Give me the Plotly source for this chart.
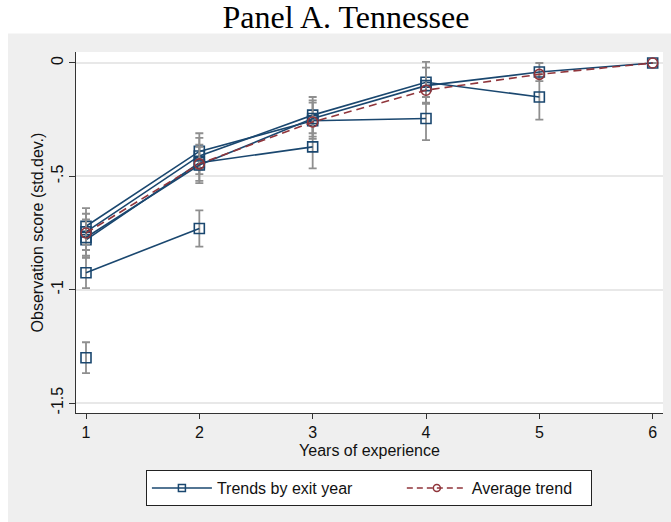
import plotly.graph_objects as go

years = [1, 2, 3, 4, 5, 6]

# Trends by exit year (each cohort observed up to its exit year)
exit1 = [-1.30]
exit2 = [-0.925, -0.73]
exit3 = [-0.78, -0.44, -0.37]
exit4 = [-0.72, -0.39, -0.255, -0.245]
exit5 = [-0.745, -0.41, -0.23, -0.085, -0.15]
exit6 = [-0.77, -0.45, -0.245, -0.10, -0.04, 0.0]

err1 = [0.068]
err2 = [0.068, 0.08]
err3 = [0.08, 0.08, 0.095]
err4 = [0.08, 0.08, 0.08, 0.095]
err5 = [0.08, 0.08, 0.08, 0.09, 0.10]
err6 = [0.08, 0.08, 0.08, 0.08, 0.04, 0.0]

average = [-0.75, -0.445, -0.26, -0.12, -0.05, 0.0]

ytick_vals = [0, -0.5, -1, -1.5]
ytick_text = ["0", "-.5", "-1", "-1.5"]

legend_names = ["Trends by exit year", "Average trend"]

BLUE = "#1a476f"
RED = "#90353b"
GRAY = "#8f8f8f"
BG = "#efefef"
SANS = "Liberation Sans, Arial, sans-serif"
NB = "\u00a0"

fig = go.Figure()

series = [(exit1, err1), (exit2, err2), (exit3, err3), (exit4, err4), (exit5, err5), (exit6, err6)]
for vals, errs in series:
    fig.add_trace(go.Scatter(
        x=years[:len(vals)], y=vals,
        mode="lines+markers",
        line=dict(color=BLUE, width=1.6),
        marker=dict(symbol="square-open", size=10, color=BLUE, line=dict(width=1.6, color=BLUE)),
        error_y=dict(type="data", array=errs, visible=True, color=GRAY, thickness=1.8, width=4),
        showlegend=False,
    ))

fig.add_trace(go.Scatter(
    x=years, y=average,
    mode="lines+markers",
    line=dict(color=RED, width=1.6, dash="8px,5px"),
    marker=dict(symbol="circle-open", size=10, color=RED, line=dict(width=1.6, color=RED)),
    showlegend=False,
))

# legend entries
fig.add_trace(go.Scatter(
    x=[None], y=[None], mode="lines+markers", name=legend_names[0] + NB * 10,
    line=dict(color=BLUE, width=1.5),
    marker=dict(symbol="square-open", size=7, color=BLUE, line=dict(width=1.5, color=BLUE)),
))
fig.add_trace(go.Scatter(
    x=[None], y=[None], mode="lines+markers", name=legend_names[1] + NB * 3,
    line=dict(color=RED, width=1.5, dash="6px,4px"),
    marker=dict(symbol="circle-open", size=7, color=RED, line=dict(width=1.5, color=RED)),
))

fig.update_layout(
    width=671, height=522,
    margin=dict(l=76, r=8, t=52, b=109),
    paper_bgcolor=BG,
    plot_bgcolor="white",
    font=dict(family=SANS, size=16, color="#111111"),
    title=dict(
        text="Panel A. Tennessee",
        font=dict(family="Liberation Serif, Times New Roman, serif", size=32, color="black"),
        x=346 / 671, xanchor="center", xref="container",
        y=1 - 17 / 522, yanchor="middle", yref="container",
    ),
    xaxis=dict(
        range=[0.9118, 6.091],
        tickvals=years, ticktext=[str(v) for v in years],
        showgrid=False, zeroline=False,
        showline=True, linecolor="#333333", linewidth=1,
        ticks="outside", ticklen=5, tickcolor="#333333", tickwidth=1,
        tickfont=dict(size=16),
        title=dict(text="Years of experience", font=dict(size=16), standoff=4),
    ),
    yaxis=dict(
        range=[-1.544, 0.0485],
        tickvals=ytick_vals, ticktext=ytick_text, tickangle=-90,
        showgrid=True, gridcolor="#e8e8e8", gridwidth=1.6,
        zeroline=False,
        showline=True, linecolor="#333333", linewidth=1,
        ticks="outside", ticklen=6, tickcolor="#333333", tickwidth=1,
        tickfont=dict(size=16),
        title=dict(text="Observation score (std.dev.)", font=dict(size=16), standoff=0),
    ),
    legend=dict(
        orientation="h",
        x=0.499, xanchor="center",
        y=-0.158, yanchor="top",
        bgcolor="white", bordercolor="#222222", borderwidth=1,
        font=dict(size=16),
        itemwidth=60,
        traceorder="normal",
    ),
    shapes=[
        dict(type="rect", xref="paper", yref="paper", x0=-0.2, x1=1.1, y0=1.0512, y1=1.3,
             fillcolor="white", line=dict(width=0), layer="below"),
        dict(type="rect", xref="paper", yref="paper", x0=-0.2, x1=-0.1158, y0=1.06, y1=-0.5,
             fillcolor="white", line=dict(width=0), layer="below"),
    ],
)

fig.write_html("out.html")
